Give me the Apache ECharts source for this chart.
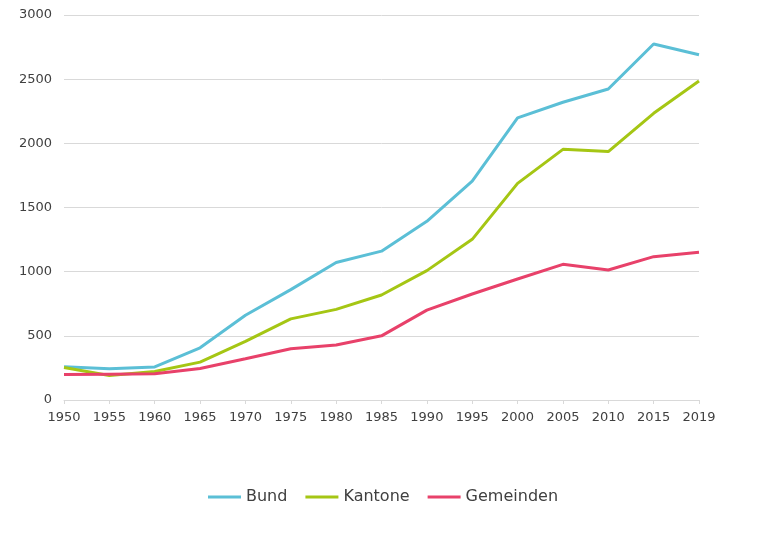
<!DOCTYPE html>
<html><head><meta charset="utf-8">
<script src="https://cdn.jsdelivr.net/npm/echarts@6/dist/echarts.min.js"></script>
<style>html,body{margin:0;padding:0;background:#fff}#c{width:782px;height:550px}</style>
</head><body><div id="c"></div>
<script>
const years = ['1950','1955','1960','1965','1970','1975','1980','1985','1990','1995','2000','2005','2010','2015','2019'];
const bund = [260,243,258,407,660,860,1072,1160,1392,1706,2198,2320,2423,2774,2690];
const kantone = [253,191,222,295,457,632,706,818,1008,1252,1688,1953,1936,2234,2486];
const gemeinden = [198,201,204,245,321,400,428,500,700,826,943,1057,1013,1117,1151];
const yTicks = {min:0, max:3000, interval:500};

const chart = echarts.init(document.getElementById('c'), null, {renderer:'canvas'});
const font = "'DejaVu Sans'";
const mk = (name, data, color) => ({
  name, type:'line', data, showSymbol:false, symbol:'none',
  lineStyle:{width:3, color}, itemStyle:{color}, animation:false
});
chart.setOption({
  animation:false,
  grid:{left:64, right:83, top:15, bottom:150},
  legend:{
    left:203, top:484, icon:'rect', itemWidth:33, itemHeight:3, itemGap:18,
    textStyle:{fontFamily:font, fontSize:16, color:'#404040'},
    data:['Bund','Kantone','Gemeinden']
  },
  xAxis:{
    type:'category', data:years, boundaryGap:false,
    axisLine:{lineStyle:{color:'#d9d9d9'}},
    axisTick:{show:true, length:4, alignWithLabel:true, lineStyle:{color:'#d9d9d9'}},
    axisLabel:{fontFamily:font, fontSize:13, color:'#404040', margin:11, interval:0}
  },
  yAxis:{
    type:'value', min:yTicks.min, max:yTicks.max, interval:yTicks.interval,
    axisLine:{show:false}, axisTick:{show:false},
    splitLine:{lineStyle:{color:'#d9d9d9'}},
    axisLabel:{fontFamily:font, fontSize:13, color:'#404040', margin:12, formatter:v => String(v)}
  },
  series:[
    mk('Bund', bund, '#5bbfd6'),
    mk('Kantone', kantone, '#a5c614'),
    mk('Gemeinden', gemeinden, '#e8416a')
  ]
});
</script></body></html>
